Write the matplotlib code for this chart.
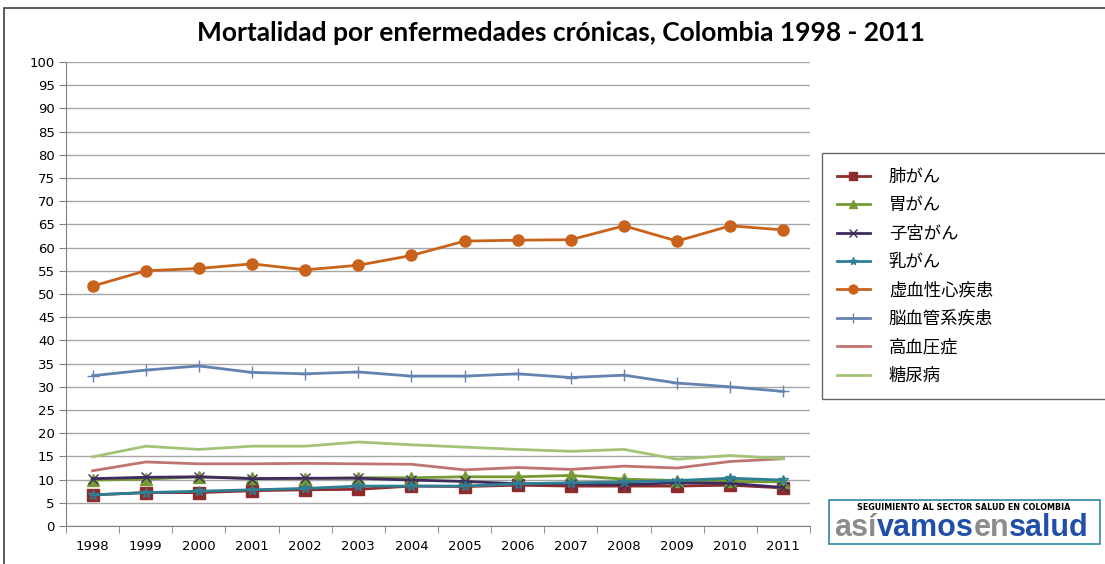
import numpy as np
import matplotlib
matplotlib.use('Agg')
import matplotlib.pyplot as plt
from matplotlib.patches import Rectangle

# --- datos ---
anios = [1998, 1999, 2000, 2001, 2002, 2003, 2004, 2005, 2006, 2007, 2008, 2009, 2010, 2011]

pulmon = [6.7, 7.2, 7.2, 7.6, 7.8, 7.9, 8.6, 8.5, 8.8, 8.6, 8.6, 8.6, 8.8, 8.2]
estomago = [9.9, 10.1, 10.6, 10.3, 10.2, 10.4, 10.4, 10.6, 10.6, 10.9, 10.1, 9.8, 9.6, 9.5]
cervix = [10.2, 10.5, 10.6, 10.2, 10.3, 10.3, 9.9, 9.6, 9.1, 9.1, 8.9, 9.3, 9.2, 8.3]
mama = [6.7, 7.2, 7.5, 7.8, 8.1, 8.6, 8.6, 8.6, 9.1, 9.3, 9.5, 9.8, 10.3, 9.9]
isquemica = [51.7, 55.0, 55.5, 56.5, 55.2, 56.2, 58.3, 61.4, 61.6, 61.7, 64.7, 61.4, 64.7, 63.8]
cerebro = [32.4, 33.6, 34.5, 33.1, 32.8, 33.2, 32.3, 32.3, 32.8, 32.0, 32.5, 30.8, 30.0, 29.0]
hipertension = [11.9, 13.8, 13.4, 13.4, 13.5, 13.4, 13.3, 12.1, 12.6, 12.2, 12.9, 12.5, 13.9, 14.5]
diabetes = [14.9, 17.2, 16.5, 17.2, 17.2, 18.1, 17.5, 17.0, 16.5, 16.1, 16.5, 14.4, 15.2, 14.5]

etiquetas = ['肺がん', '胃がん', '子宮がん', '乳がん', '虚血性心疾患', '脳血管系疾患', '高血圧症', '糖尿病']
titulo = 'Mortalidad por enfermedades crónicas, Colombia 1998 - 2011'

series = [pulmon, estomago, cervix, mama, isquemica, cerebro, hipertension, diabetes]
colores = ['#8E2B2B', '#779A35', '#3F2B5E', '#2E7F93', '#C9631B', '#6482B0', '#C07471', '#A3C477']
marcadores = ['s', '^', 'x', '*', 'o', '+', None, None]
tam_marc = [8, 8, 7, 7, 8, 9, 0, 0]

fig = plt.figure(figsize=(11.05, 5.64), dpi=100)
ax = fig.add_axes([66 / 1105, 1 - 526 / 564, (810 - 66) / 1105, (526 - 62) / 564])

x = np.arange(len(anios))
for i in range(len(series)):
    ax.plot(x, series[i], color=colores[i], lw=2.0, marker=marcadores[i],
            markersize=tam_marc[i], markerfacecolor=colores[i] if marcadores[i] not in ('x', '+', '*') else 'none',
            markeredgecolor=colores[i], markeredgewidth=1.0, label=etiquetas[i], zorder=3)

ax.set_xlim(-0.5, len(anios) - 0.5)
ax.set_ylim(0, 100)
ax.set_yticks(np.arange(0, 101, 5))
ax.set_xticks(x)
ax.set_xticklabels([str(a) for a in anios])
ax.set_xticks(np.arange(-0.5, len(anios), 1), minor=True)
ax.tick_params(axis='x', which='major', length=0, pad=10, labelsize=9.5)
ax.tick_params(axis='x', which='minor', length=5, color='#808080', direction='out')
ax.tick_params(axis='y', length=5, color='#808080', labelsize=9.5, pad=3)
ax.grid(axis='y', color='#A6A6A6', lw=1.0)
ax.set_axisbelow(True)
for lado in ['top', 'right']:
    ax.spines[lado].set_visible(False)
for lado in ['left', 'bottom']:
    ax.spines[lado].set_color('#808080')

fig.text(561 / 1105, 1 - 33 / 564, titulo, ha='center', va='center',
         fontsize=19, fontweight='bold', family='Lato')

# leyenda
leg = fig.legend(loc='upper left', bbox_to_anchor=(822 / 1105, 1 - 398 / 564, 300 / 1105, 245 / 564),
                 mode='expand', prop={'family': ['Noto Sans CJK JP', 'DejaVu Sans'], 'size': 12.5},
                 handlelength=1.9, handletextpad=1.1, labelspacing=0.6, borderpad=0.85,
                 borderaxespad=0, markerscale=0.8, frameon=True, fancybox=False, edgecolor='#404040')
leg.get_frame().set_linewidth(1.0)

# borde exterior del área del gráfico
fig.patches.append(Rectangle((4 / 1105, -0.05), 1.2, 1 - 8 / 564 + 0.05, transform=fig.transFigure,
                             fill=False, edgecolor='#404040', lw=1.2))

# logo
fig.patches.append(Rectangle((829 / 1105, 1 - 544 / 564), 271 / 1105, 44 / 564, transform=fig.transFigure,
                             fill=False, edgecolor='#2E86A8', lw=1.2))
fig.text(964 / 1105, 1 - 507 / 564, 'SEGUIMIENTO AL SECTOR SALUD EN COLOMBIA', ha='center', va='center',
         fontsize=5.8, fontweight='bold', family='DejaVu Sans')
partes = [('así', '#8C8C8C'), ('vamos', '#1F4FA8'), ('en', '#8C8C8C'), ('salud', '#1F4FA8')]
xpos = 834 / 1105
r = fig.canvas.get_renderer()
for txt, col in partes:
    t = fig.text(xpos, 1 - 528 / 564, txt, ha='left', va='center', fontsize=22, fontweight='heavy',
                 family='Liberation Sans', color=col)
    bb = t.get_window_extent(renderer=r)
    xpos += bb.width / fig.bbox.width

fig.savefig('out.png', dpi=100)
